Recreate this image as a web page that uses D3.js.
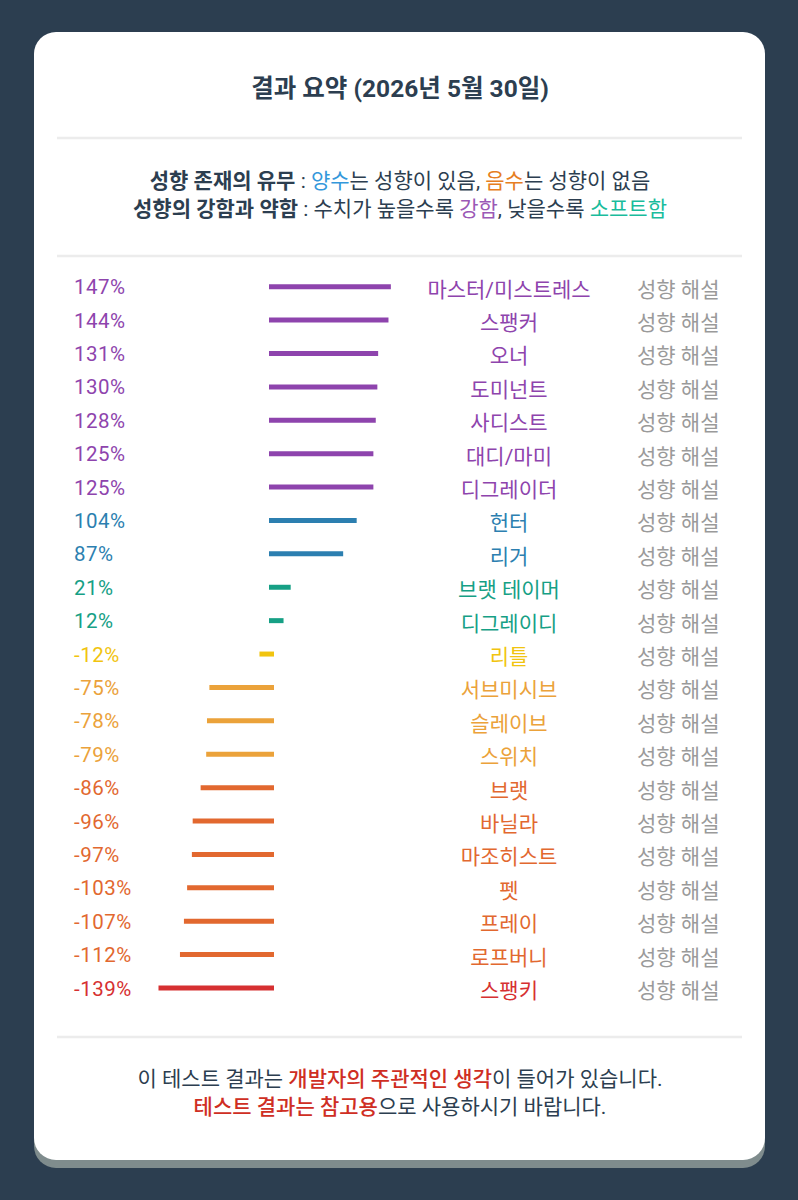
<!DOCTYPE html>
<html><head><meta charset="utf-8">
<script src="https://cdn.jsdelivr.net/npm/d3@7"></script>
<style>
html,body{margin:0;padding:0;background:#2c3e50;}
svg{display:block;}
text{font-family:Roboto,"Noto Sans CJK KR",sans-serif;}
</style></head><body>
<svg id="c" width="798" height="1200"></svg>
<script>
const categories = ["마스터/미스트레스","스팽커","오너","도미넌트","사디스트","대디/마미","디그레이더","헌터","리거","브랫 테이머","디그레이디","리틀","서브미시브","슬레이브","스위치","브랫","바닐라","마조히스트","펫","프레이","로프버니","스팽키"];
const values = [147,144,131,130,128,125,125,104,87,21,12,-12,-75,-78,-79,-86,-96,-97,-103,-107,-112,-139];
const tiers = ["p","p","p","p","p","p","p","b","b","t","t","y","o","o","o","r","r","r","r","r","r","d"];
const tierColors = {p:"#8e44ad", b:"#2c7fb0", t:"#16a085", y:"#f1c40f", o:"#eba23a", r:"#e2682f", d:"#d63031"};
const linkLabel = "성향 해설";
const titleText = "결과 요약 (2026년 5월 30일)";
const legendLines = [
  [["성향 존재의 유무","#2c3e50",700],[" : ","#2c3e50",400],["양수","#3498db",400],["는 성향이 있음, ","#2c3e50",400],["음수","#e67e22",400],["는 성향이 없음","#2c3e50",400]],
  [["성향의 강함과 약함","#2c3e50",700],[" : 수치가 높을수록 ","#2c3e50",400],["강함","#9b59b6",400],[", 낮을수록 ","#2c3e50",400],["소프트함","#1abc9c",400]]
];
const footerLines = [
  [["이 테스트 결과는 ","#2c3e50",400],["개발자의 주관적인 생각","#cf2e23",500],["이 들어가 있습니다.","#2c3e50",400]],
  [["테스트 결과는 참고용","#cf2e23",500],["으로 사용하시기 바랍니다.","#2c3e50",400]]
];

const svg = d3.select("#c");
svg.append("rect").attr("x",34).attr("y",40).attr("width",731).attr("height",1128).attr("rx",22).attr("fill","#7f8c8d");
svg.append("rect").attr("x",34).attr("y",32).attr("width",731).attr("height",1128).attr("rx",22).attr("fill","#ffffff");

svg.append("text").attr("x",400).attr("y",97).attr("text-anchor","middle")
  .attr("font-size",24.5).attr("font-weight",700).attr("fill","#2c3e50").text(titleText);

[138,256,1037].forEach(y=>{
  svg.append("line").attr("x1",57).attr("x2",742).attr("y1",y).attr("y2",y)
    .attr("stroke","#ececec").attr("stroke-width",2.5);
});

function richLine(parts, y, size){
  const t = svg.append("text").attr("x",400).attr("y",y).attr("text-anchor","middle").attr("font-size",size);
  parts.forEach(([s,c,w])=>{ t.append("tspan").attr("fill",c).attr("font-weight",w).text(s); });
}
richLine(legendLines[0],188,21);
richLine(legendLines[1],216,21);
richLine(footerLines[0],1086,21);
richLine(footerLines[1],1114,21);

const x = d3.scaleLinear().domain([-150,150]).range([152.25,390.75]);
const y = d3.scalePoint().domain(categories).range([286.7,988]);

const rows = svg.append("g").selectAll("g").data(categories.map((c,i)=>({c, v:values[i], t:tiers[i]})))
  .join("g");
rows.append("line")
  .attr("x1",x(0)).attr("x2",d=>x(d.v))
  .attr("y1",d=>y(d.c)).attr("y2",d=>y(d.c))
  .attr("stroke",d=>tierColors[d.t]).attr("stroke-width",5).attr("stroke-linecap","square");
rows.append("text").attr("x",74).attr("y",d=>y(d.c)+7.5)
  .attr("font-size",20.5).attr("letter-spacing",0.5)
  .attr("fill",d=>tierColors[d.t]).text(d=>d.v+"%");
rows.append("text").attr("x",509).attr("y",d=>y(d.c)+10).attr("text-anchor","middle")
  .attr("font-size",21).attr("fill",d=>tierColors[d.t]).text(d=>d.c);
rows.append("text").attr("x",637).attr("y",d=>y(d.c)+10)
  .attr("font-size",21).attr("fill","#9a9a9a").text(linkLabel);
</script></body></html>
